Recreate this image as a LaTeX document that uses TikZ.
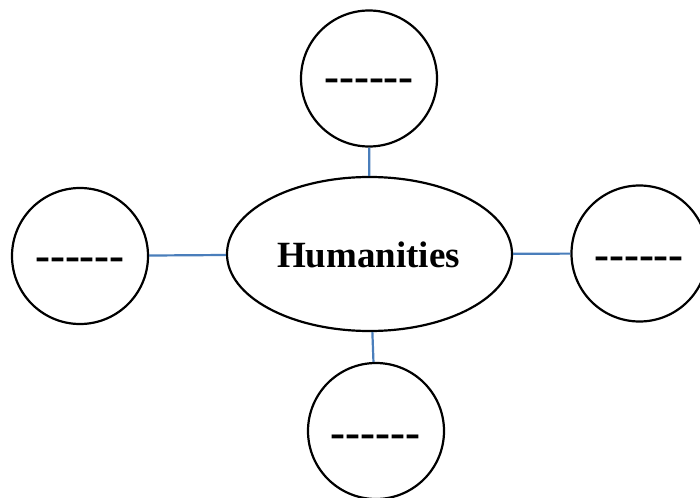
\documentclass[tikz,border=0pt]{standalone}
\usepackage{fontspec}
\setmainfont{Liberation Serif}
\usetikzlibrary{shapes.geometric}
\definecolor{linkblue}{HTML}{4A7EBB}
\newcommand{\blankdashes}{-{}-{}-{}-{}-{}-}
\tikzset{
  bubble/.style={draw=black, line width=2.2pt, circle, minimum size=136pt, inner sep=0pt},
  hub/.style={draw=black, line width=2.2pt, ellipse, minimum width=285pt, minimum height=154pt, inner sep=0pt},
  blank/.style={font=\fontsize{45}{50}\selectfont\bfseries, anchor=base, inner sep=0pt},
  hubtext/.style={font=\fontsize{37}{42}\selectfont\bfseries, anchor=base, inner sep=0pt},
  link/.style={draw=linkblue, line width=2.2pt}
}
\begin{document}
\begin{tikzpicture}[x=1pt,y=-1pt]
\clip (0,0) rectangle (700,497);
\fill[white] (0,0) rectangle (700,497);
\node[hub] (hum) at (369.5,254) {};
\node[hubtext] (humtext) at (368.5,267) {Humanities};
\node[bubble] (top) at (369,78.5) {};
\node[bubble] (left) at (80,256) {};
\node[bubble] (right) at (639.5,253.5) {};
\node[bubble] (bottom) at (376,431) {};
\node[blank] (ttop) at (369,92) {\blankdashes};
\node[blank] (tleft) at (80,270) {\blankdashes};
\node[blank] (tright) at (639,269) {\blankdashes};
\node[blank] (tbottom) at (375.5,447) {\blankdashes};
\draw[link] (top) -- (hum);
\draw[link] (left) -- (hum);
\draw[link] (right) -- (hum);
\draw[link] (bottom) -- (hum);
\end{tikzpicture}
\end{document}
